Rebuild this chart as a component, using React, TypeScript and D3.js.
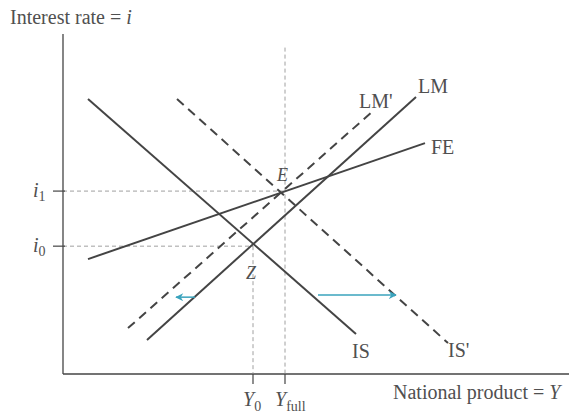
import React from "react";
import * as d3 from "d3";

const W = 569, H = 416;

// curves in data units (x: national product, y: interest rate), domain 0..100
const curveNames = ["IS", "IS'", "LM", "LM'", "FE"];
const curveX0 = [5, 22.8, 16.8, 13, 5];
const curveY0 = [80.9, 80.9, 10, 13.5, 33.8];
const curveX1 = [58.6, 77, 70.6, 61.8, 72.4];
const curveY1 = [11.8, 9.1, 81.5, 77.1, 67.9];
const curveDashed = [false, true, false, true, false];

const yTickLabels = ["i0", "i1"];
const yTickValues = [37.6, 53.8];
const xTickLabels = ["Y0", "Yfull"];
const xTickValues = [38, 44.4];

const arrowFrom = [26.4, 51];
const arrowTo = [22.6, 66.6];
const arrowY = [22.6, 23.2];

export default function App() {
  const x = d3.scaleLinear().domain([0, 100]).range([63, 563]);
  const y = d3.scaleLinear().domain([0, 100]).range([374, 34]);
  const ink = "#444";
  const txt = "#505050";
  const teal = "#3aa3bd";
  const serif = "'Liberation Serif', 'DejaVu Serif', serif";
  const line = d3.line<[number, number]>().x(d => x(d[0])).y(d => y(d[1]));

  return (
    <svg width={W} height={H} style={{ position: "absolute", left: 0, top: 0, background: "#fff" }} fontFamily={serif}>
      <defs>
        <marker id="ah" viewBox="0 0 10 10" refX="9" refY="5" markerWidth="11" markerHeight="8" markerUnits="userSpaceOnUse" orient="auto">
          <path d="M0,0 L10,5 L0,10 L3,5 Z" fill={teal} />
        </marker>
      </defs>
      {/* axes */}
      <line x1={x(0)} y1={y(100)} x2={x(0)} y2={y(0)} stroke={ink} strokeWidth={1.3} />
      <line x1={x(0)} y1={y(0)} x2={W} y2={y(0)} stroke={ink} strokeWidth={1.3} />
      {/* guides */}
      <line x1={x(0)} y1={y(yTickValues[1])} x2={x(xTickValues[1])} y2={y(yTickValues[1])} stroke="#888" strokeWidth={0.8} strokeDasharray="4,3" />
      <line x1={x(0)} y1={y(yTickValues[0])} x2={x(xTickValues[0])} y2={y(yTickValues[0])} stroke="#888" strokeWidth={0.8} strokeDasharray="4,3" />
      <line x1={x(xTickValues[1])} y1={y(96)} x2={x(xTickValues[1])} y2={y(0)} stroke="#888" strokeWidth={0.8} strokeDasharray="4,3" />
      <line x1={x(xTickValues[0])} y1={y(yTickValues[0])} x2={x(xTickValues[0])} y2={y(0)} stroke="#888" strokeWidth={0.8} strokeDasharray="4,3" />
      {/* ticks */}
      {yTickValues.map((v, i) => (
        <g key={"yt" + i}>
          <line x1={x(0) - 10} x2={x(0) + 2} y1={y(v)} y2={y(v)} stroke={ink} strokeWidth={1.2} />
          <text x={33} y={y(v) + 6} fontSize={20} fontStyle="italic" fill={txt}>i
            <tspan fontSize={14} fontStyle="normal" dy={4}>{yTickLabels[i].slice(1)}</tspan>
          </text>
        </g>
      ))}
      {xTickValues.map((v, i) => (
        <g key={"xt" + i}>
          <line x1={x(v)} x2={x(v)} y1={y(0)} y2={y(0) + 10} stroke={ink} strokeWidth={1.2} />
          <text x={x(v) - 10} y={406} fontSize={20} fontStyle="italic" fill={txt}>Y
            <tspan fontSize={14} fontStyle="normal" dy={5}>{xTickLabels[i].slice(1)}</tspan>
          </text>
        </g>
      ))}
      {/* curves */}
      {curveNames.map((n, i) => (
        <path key={n} d={line([[curveX0[i], curveY0[i]], [curveX1[i], curveY1[i]]]) || ""}
          stroke={ink} strokeWidth={2} fill="none" strokeDasharray={curveDashed[i] ? "9,6" : undefined} />
      ))}
      {/* arrows */}
      {arrowFrom.map((f, i) => (
        <line key={"ar" + i} x1={x(f)} y1={y(arrowY[i])} x2={x(arrowTo[i])} y2={y(arrowY[i])} stroke={teal} strokeWidth={1.5} markerEnd="url(#ah)" />
      ))}
      {/* labels */}
      <text x={10} y={24} fontSize={20} fill={txt}>Interest rate = <tspan fontStyle="italic">i</tspan></text>
      <text x={393} y={399} fontSize={20} fill={txt}>National product = <tspan fontStyle="italic">Y</tspan></text>
      <text x={418} y={93} fontSize={20} fill={txt}>LM</text>
      <text x={359} y={108} fontSize={20} fill={txt}>LM'</text>
      <text x={431} y={154} fontSize={20} fill={txt}>FE</text>
      <text x={352} y={358} fontSize={20} fill={txt}>IS</text>
      <text x={448} y={357} fontSize={20} fill={txt}>IS'</text>
      <text x={277} y={181} fontSize={18} fontStyle="italic" fill={txt}>E</text>
      <text x={246} y={279} fontSize={18} fontStyle="italic" fill={txt}>Z</text>
    </svg>
  );
}
